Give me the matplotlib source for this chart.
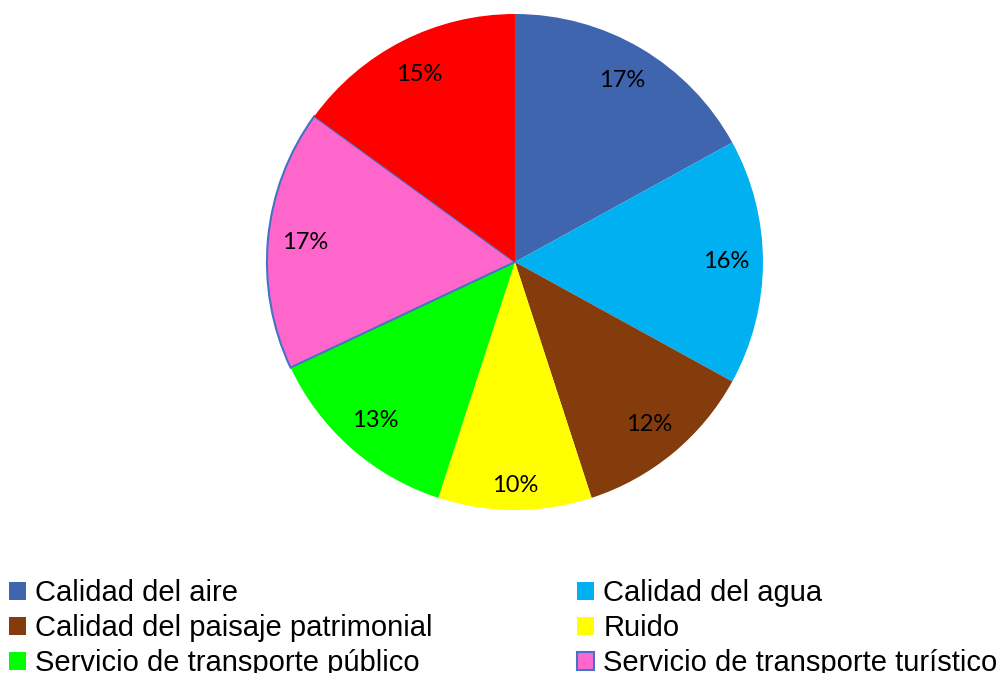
import matplotlib.pyplot as plt
import numpy as np
from matplotlib.patches import Rectangle

# Data
labels = ['Calidad del aire', 'Calidad del agua', 'Calidad del paisaje patrimonial', 'Ruido',
          'Servicio de transporte público', 'Servicio de transporte turístico', '']
values = [17, 16, 12, 10, 13, 17, 15]
colors = ['#3F65AE', '#00B0F0', '#843C0C', '#FFFF00', '#00FF00', '#FF66CC', '#FF0000']

fig = plt.figure(figsize=(10.01, 6.73), dpi=100)
ax = fig.add_axes([0.2667, 0.2422, 0.4955, 0.737])

wedges, texts, autotexts = ax.pie(values, colors=colors, startangle=90, counterclock=False,
                                  autopct='%1.0f%%', pctdistance=0.85, radius=1.0,
                                  textprops=dict(family='Lato', fontsize=17, color='black'))
ax.set_xlim(-1, 1)
ax.set_ylim(-1, 1)
ax.set_aspect('equal')

# pink slice has a blue outline
wedges[5].set_edgecolor('#4472C4')
wedges[5].set_linewidth(1.5)

# Ruido label sits a bit further out
w = wedges[3]
mid = np.deg2rad((w.theta1 + w.theta2) / 2)
autotexts[3].set_position((0.9 * np.cos(mid), 0.9 * np.sin(mid)))

# Legend (row-wise, last row clipped in original)
handles = []
for c, i in zip(colors, range(6)):
    if i == 5:
        handles.append(Rectangle((0, 0), 1, 1, facecolor=c, edgecolor='#4472C4', linewidth=1.5))
    else:
        handles.append(Rectangle((0, 0), 1, 1, facecolor=c, edgecolor='none'))
order = [0, 2, 4, 1, 3, 5]
fig.legend([handles[i] for i in order], [labels[i] for i in order], ncol=2,
           loc='upper left', bbox_to_anchor=(0.0, 0.152), frameon=False,
           prop=dict(family='Liberation Sans', size=21),
           handlelength=0.6, handleheight=0.6, handletextpad=0.3,
           columnspacing=4.95, labelspacing=0.24, borderaxespad=0, borderpad=0.3)

fig.savefig('out.png', dpi=100)
